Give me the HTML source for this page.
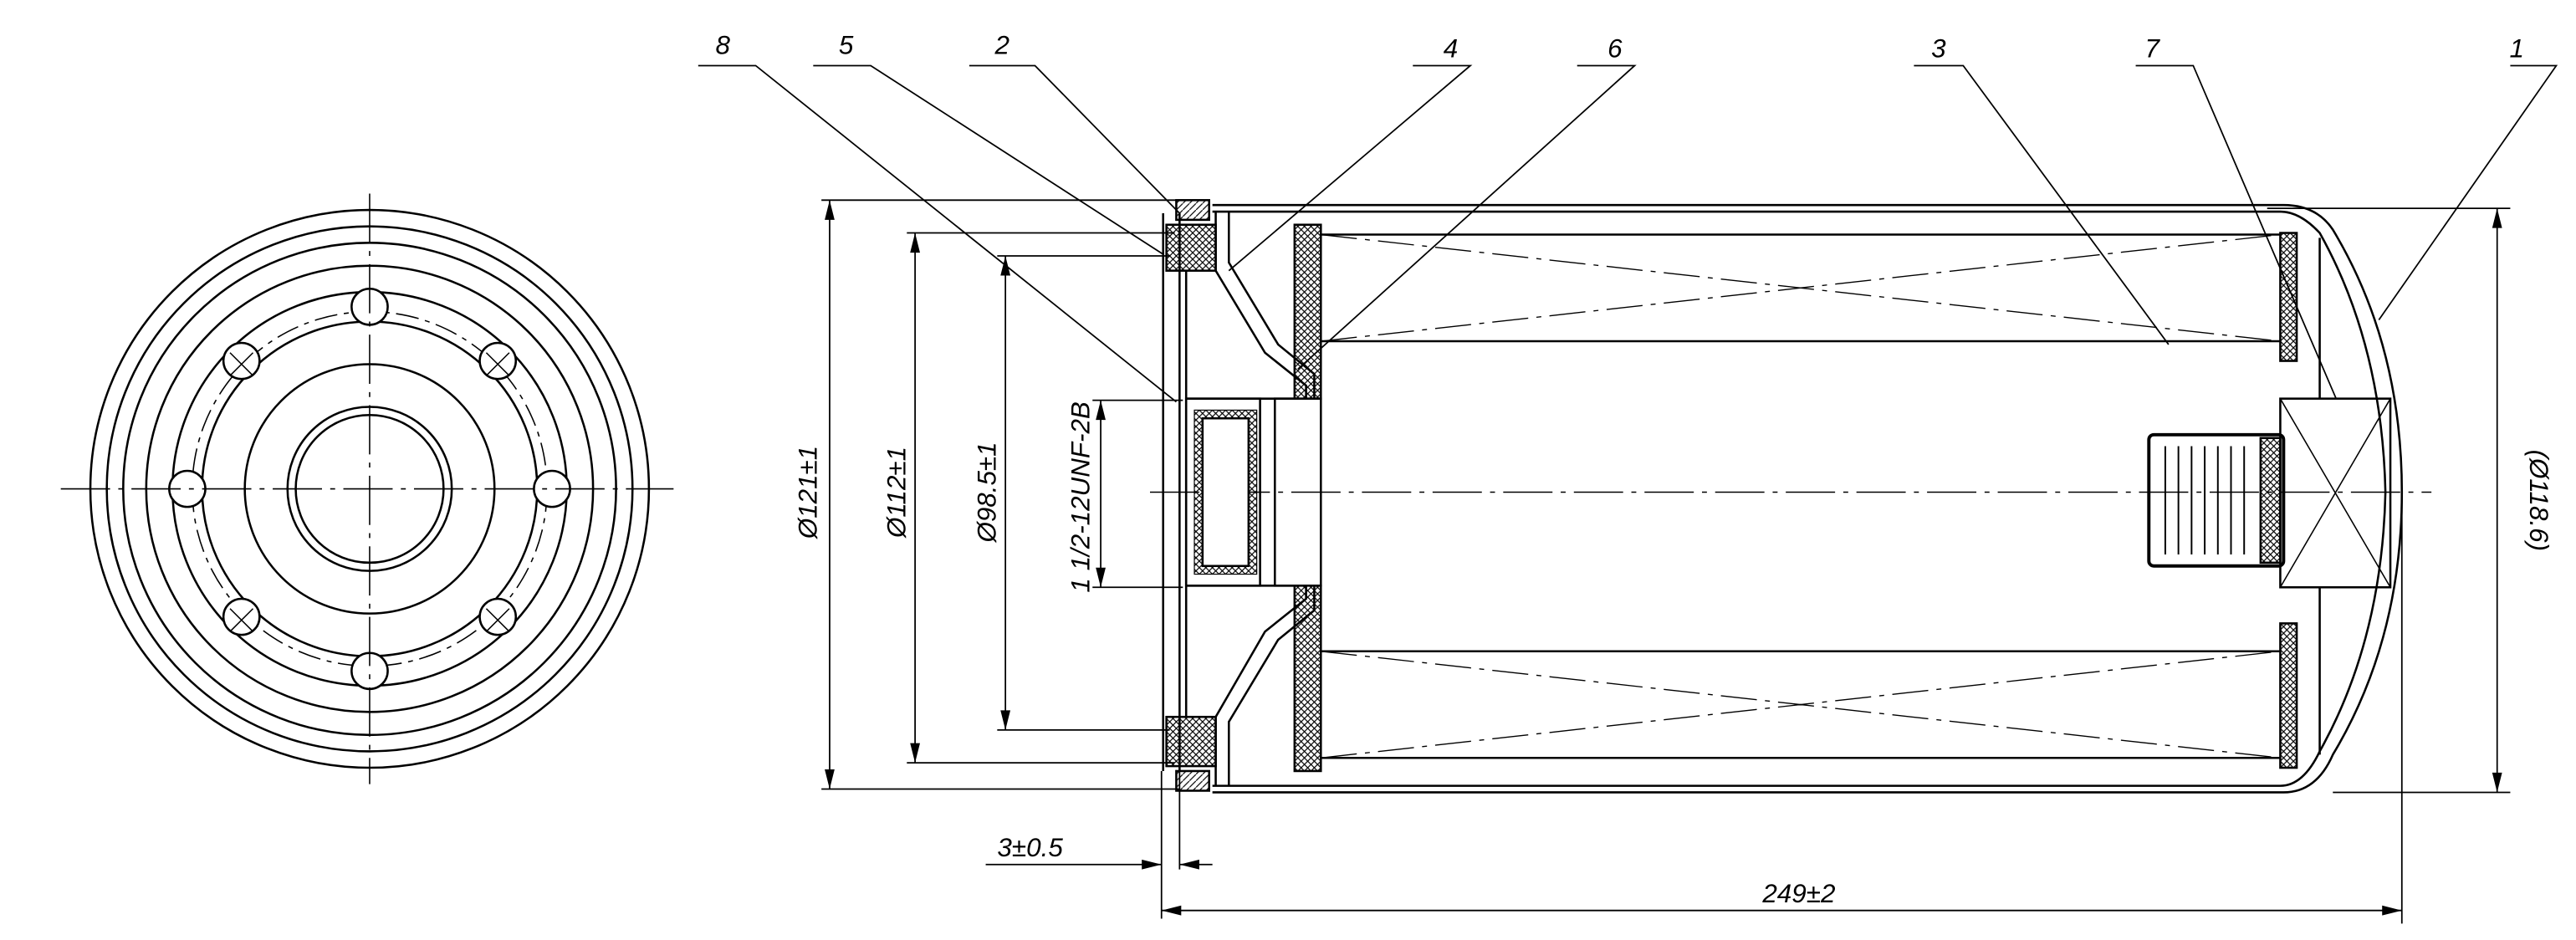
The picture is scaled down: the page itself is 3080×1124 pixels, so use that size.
<!DOCTYPE html>
<html><head><meta charset="utf-8"><style>html,body{margin:0;padding:0;background:#fff}svg{display:block}</style></head><body>
<svg width="3080" height="1124" viewBox="0 0 1568 573" preserveAspectRatio="none" xmlns="http://www.w3.org/2000/svg" font-family="'Liberation Sans Narrow','Liberation Sans',sans-serif" font-style="italic">
<defs>
<pattern id="ch" width="4" height="4" patternUnits="userSpaceOnUse"><path d="M0,0L4,4M4,0L0,4" stroke="#000" stroke-width="0.6"/></pattern>
<pattern id="hs" width="4" height="4" patternUnits="userSpaceOnUse"><path d="M0,4L4,0" stroke="#000" stroke-width="0.6"/></pattern>
</defs>
<rect width="1568" height="573" fill="#fff"/>
<g fill="none" stroke="#000" stroke-width="1.3">
<!-- left view -->
<circle cx="225" cy="298" r="170"/>
<circle cx="225" cy="298" r="160"/>
<circle cx="225" cy="298" r="150"/>
<circle cx="225" cy="298" r="136"/>
<circle cx="225" cy="298" r="120"/>
<circle cx="225" cy="298" r="108" stroke-dasharray="14 4 3 4" stroke-width="0.8"/>
<circle cx="225" cy="298" r="102"/>
<circle cx="225" cy="298" r="76"/>
<circle cx="225" cy="298" r="50"/>
<circle cx="225" cy="298" r="45"/>
<g fill="#fff">
<circle cx="225" cy="187" r="11"/><circle cx="225" cy="409" r="11"/><circle cx="114" cy="298" r="11"/><circle cx="336" cy="298" r="11"/>
<circle cx="147" cy="220" r="11"/><circle cx="303" cy="220" r="11"/><circle cx="147" cy="376" r="11"/><circle cx="303" cy="376" r="11"/>
</g>
<path d="M140,215l14,14M154,215l-14,14M296,215l14,14M310,215l-14,14M140,371l14,14M154,371l-14,14M296,371l14,14M310,371l-14,14" stroke-width="0.8"/>
<path d="M37,298H410M225,118V478" stroke-width="0.8" stroke-dasharray="30 5 3 5"/>
<!-- dimension lines -->
<g stroke-width="0.9">
<path d="M500,122H718M500,481H718M505,122V481"/>
<path d="M552,142H715M552,465H715M557,142V465"/>
<path d="M607,156H712M607,445H712M612,156V445"/>
<path d="M665,244H720M665,358H720M670,244V358"/>
<path d="M600,527H707M718,527H738M707,470V560M718,470V530"/>
<path d="M707,555H1462M1462,300V563"/>
<path d="M1380,127H1528M1420,483H1528M1520,127V483"/>
</g>
<g fill="#000" stroke="none">
<path d="M505,122l-3,12h6zM505,481l-3,-12h6zM557,142l-3,12h6zM557,465l-3,-12h6zM612,156l-3,12h6zM612,445l-3,-12h6zM670,244l-3,12h6zM670,358l-3,-12h6zM1520,127l-3,12h6zM1520,483l-3,-12h6z"/>
<path d="M707,527l-12,-3v6zM718,527l12,-3v6zM707,555l12,-3v6zM1462,555l-12,-3v6z"/>
</g>
<!-- centerline -->
<path d="M700,300H1480" stroke-width="0.8" stroke-dasharray="30 5 3 5"/>
<!-- housing -->
<path d="M738,125H1390Q1410,125 1420,140Q1462,210 1462,300Q1462,390 1420,460Q1410,483 1390,483H738"/>
<path d="M738,129H1388Q1400,129 1412,142Q1450,210 1452,300Q1450,390 1412,458Q1402,479 1388,479H738"/>
<path d="M1412,145V243M1412,358V460"/>
<!-- filter element end caps -->
<rect x="788" y="137" width="16" height="106" fill="url(#ch)"/>
<rect x="788" y="357" width="16" height="113" fill="url(#ch)"/>
<rect x="1388" y="142" width="10" height="78" fill="url(#ch)"/>
<rect x="1388" y="380" width="10" height="88" fill="url(#ch)"/>
<path d="M804,143H1388M804,208H1388M804,397H1388M804,462H1388"/>
<path d="M804,143L1388,208M804,208L1388,143M804,397L1388,462M804,462L1388,397" stroke-width="0.7" stroke-dasharray="22 5 3 5"/>
<rect x="776" y="243" width="28" height="114"/>
<!-- relief valve -->
<rect x="1308" y="265" width="82" height="80" rx="3" stroke-width="2"/>
<rect x="1376" y="267" width="12" height="76" fill="url(#ch)"/>
<path d="M1318,272V338M1326,272V338M1334,272V338M1342,272V338M1350,272V338M1358,272V338M1366,272V338" stroke-width="1"/>
<rect x="1388" y="243" width="67" height="115"/>
<path d="M1388,243L1455,358M1455,243L1388,358" stroke-width="0.8"/>
<!-- baseplate -->
<rect x="710" y="137" width="30" height="28" fill="url(#ch)"/>
<rect x="710" y="437" width="30" height="30" fill="url(#ch)"/>
<rect x="716" y="122" width="20" height="12" fill="url(#hs)"/>
<rect x="716" y="470" width="20" height="12" fill="url(#hs)"/>
<path d="M708,130V470M718,130V470M722,165V437"/>
<path d="M740,129V165L770,215L795,235V243M740,479V437L770,385L795,365V357"/>
<path d="M748,129V160L778,210L800,228V243M748,479V440L778,390L800,372V357" fill="none"/>
<path d="M722,243H790M722,357H790"/>
<rect x="722" y="243" width="45" height="114"/>
<rect x="727" y="250" width="38" height="100" fill="url(#ch)" stroke-width="0.6"/>
<rect x="732" y="255" width="28" height="90" fill="#fff"/>
</g>
<!-- leaders -->
<g fill="none" stroke="#000" stroke-width="0.9">
<path d="M425,40H460L716,245"/>
<path d="M495,40H530L708,155"/>
<path d="M590,40H630L718,130"/>
<path d="M860,40H895L748,165"/>
<path d="M960,40H995L790,225"/>
<path d="M1165,40H1195L1320,210"/>
<path d="M1300,40H1335L1422,243"/>
<path d="M1528,40H1556L1448,195"/>
</g>
<g font-size="16" fill="#000" text-anchor="middle">
<text x="440" y="33">8</text><text x="515" y="33">5</text><text x="610" y="33">2</text>
<text x="883" y="35">4</text><text x="983" y="35">6</text><text x="1180" y="35">3</text>
<text x="1310" y="35">7</text><text x="1532" y="35">1</text>
<text x="627" y="522">3±0.5</text>
<text x="1095" y="550">249±2</text>
<text transform="translate(497,300) rotate(-90)">Ø121±1</text>
<text transform="translate(551,300) rotate(-90)">Ø112±1</text>
<text transform="translate(606,300) rotate(-90)">Ø98.5±1</text>
<text transform="translate(663,303) rotate(-90)">1  1/2-12UNF-2B</text>
<text transform="translate(1540,305) rotate(90)">(Ø118.6)</text>
</g>
</svg>
</body></html>
